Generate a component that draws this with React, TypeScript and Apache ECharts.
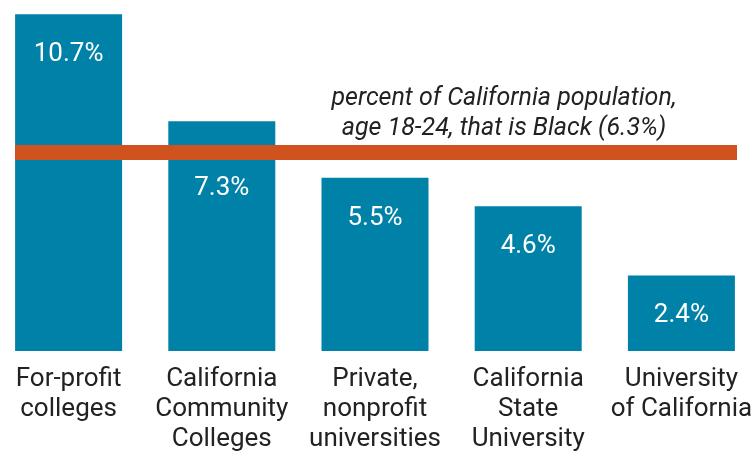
import React, { useEffect, useRef } from "react";
import * as echarts from "echarts";

const categories = [
  "For-profit\ncolleges",
  "California\nCommunity\nColleges",
  "Private,\nnonprofit\nuniversities",
  "California\nState\nUniversity",
  "University\nof California",
];
const values = [10.7, 7.3, 5.5, 4.6, 2.4];
const referenceValue = 6.3;
const referenceText = "percent of California population,\nage 18-24, that is Black (6.3%)";

export default function App() {
  const ref = useRef<HTMLDivElement>(null);
  useEffect(() => {
    if (!ref.current) return;
    const chart = echarts.init(ref.current, undefined, { renderer: "svg" });
    chart.setOption({
      animation: false,
      grid: {
        left: -8,
        top: 0,
        width: 766,
        bottom: 100,
        containLabel: false,
        outerBoundsMode: "none",
      },
      xAxis: {
        type: "category",
        data: categories,
        axisLine: { show: false },
        axisTick: { show: false },
        axisLabel: {
          interval: 0,
          color: "#222",
          fontFamily: "Roboto",
          fontSize: 26,
          lineHeight: 30,
          margin: 11,
          verticalAlign: "top",
        },
      },
      yAxis: {
        type: "value",
        min: 0,
        max: 11.15,
        show: false,
      },
      series: [
        {
          type: "bar",
          data: values.map((v, i) =>
            i === 1 ? { value: v, label: { distance: 52 } } : { value: v }
          ),
          barWidth: 107,
          itemStyle: { color: "#0081A7" },
          label: {
            show: true,
            position: "insideTop",
            distance: 25,
            color: "#fff",
            fontFamily: "Roboto",
            fontSize: 26,
            formatter: (p: any) => p.value.toFixed(1) + "%",
          },
          markLine: {
            silent: true,
            symbol: "none",
            lineStyle: { color: "#D0531F", width: 15, type: "solid", cap: "butt" },
            label: { show: false },
            data: [
              [
                { xAxis: 0, yAxis: referenceValue, x: 15 },
                { xAxis: 4, yAxis: referenceValue, x: 737 },
              ],
            ],
          },
        },
      ],
      graphic: [
        {
          type: "text",
          x: 504,
          y: 111,
          style: {
            text: referenceText,
            fill: "#222",
            font: "italic 25px Roboto",
            lineHeight: 30,
            align: "center",
            verticalAlign: "middle",
          },
        },
      ],
    });
    return () => chart.dispose();
  }, []);
  return <div ref={ref} style={{ width: 756, height: 451, position: "fixed", left: 0, top: 0 }} />;
}
